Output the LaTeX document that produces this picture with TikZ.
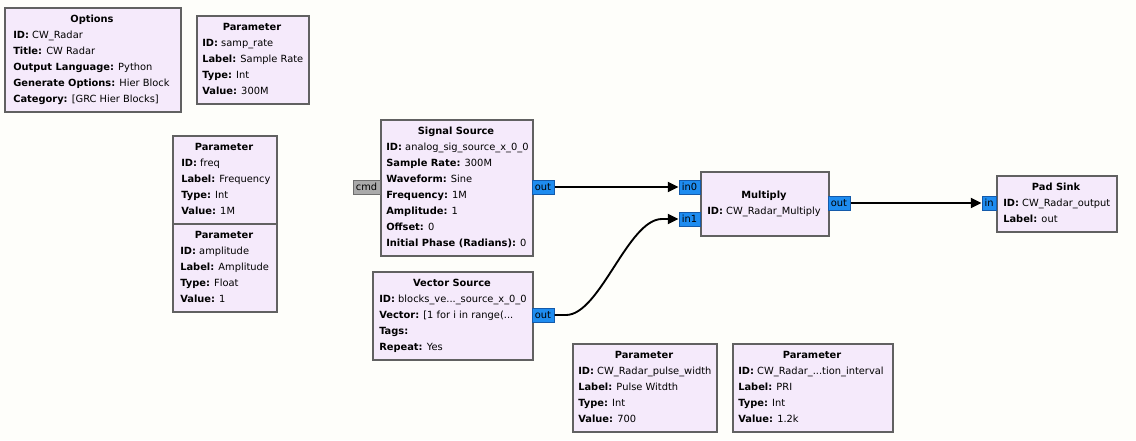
\documentclass[tikz,border=0pt]{standalone}
\usepackage{fontspec}
\setmainfont{DejaVu Sans}
\usetikzlibrary{arrows.meta}
\definecolor{bg}{RGB}{254,254,250}
\definecolor{blkfill}{RGB}{245,234,251}
\definecolor{blkdraw}{RGB}{97,97,97}
\definecolor{portfill}{RGB}{30,140,240}
\definecolor{portdraw}{RGB}{20,90,170}
\definecolor{cmdfill}{RGB}{170,170,170}
\definecolor{cmddraw}{RGB}{110,110,110}
\newcommand\tdots{...}
\tikzset{
  blk/.style={draw=blkdraw, fill=blkfill, line width=1.5pt, inner sep=0pt, anchor=north west},
  txt/.style={font=\fontsize{7.4}{12}\selectfont, inner sep=0pt, anchor=base west},
  ttl/.style={font=\fontsize{7.4}{12}\selectfont\bfseries, inner sep=0pt, anchor=base},
  port/.style={draw=portdraw, fill=portfill, line width=0.75pt, inner sep=0pt, minimum height=10.5pt, font=\fontsize{7.4}{9}\selectfont},
  cmdport/.style={draw=cmddraw, fill=cmdfill, line width=0.75pt, inner sep=0pt, minimum height=10.5pt, font=\fontsize{7.4}{9}\selectfont},
  conn/.style={line width=1.4pt, -{Triangle[length=8pt,width=7.5pt]}}
}
\newcommand\grcblock[9]{%
  \node[blk, minimum width=#4*0.75pt, minimum height=#5*0.75pt] (#1) at (#2,#3) {};
  \node[ttl] (#1-t) at (#2+#4/2, #3+#7) {#8};
  \foreach[count=\i] \rowtext in {#9} \node[txt] (#1-\i) at (#2+#6, #3+#7+16*\i) {\rowtext};
}
\begin{document}
\begin{tikzpicture}[x=0.75pt,y=-0.75pt]
\fill[bg] (0,0) rectangle (1136,440);
\useasboundingbox (0,0) rectangle (1136,440);

\grcblock{opt}{4}{7}{176}{104}{9}{15.7}{Options}{{\textbf{ID:} CW\_Radar},{\textbf{Title:} CW Radar},{\textbf{Output Language:} Python},{\textbf{Generate Options:} Hier Block},{\textbf{Category:} [GRC Hier Blocks]}}
\grcblock{samp}{196}{15}{112}{88}{6}{15.7}{Parameter}{{\textbf{ID:} samp\_rate},{\textbf{Label:} Sample Rate},{\textbf{Type:} Int},{\textbf{Value:} 300M}}
\grcblock{freq}{172}{135}{104}{88}{9}{15.7}{Parameter}{{\textbf{ID:} freq},{\textbf{Label:} Frequency},{\textbf{Type:} Int},{\textbf{Value:} 1M}}
\grcblock{amp}{172}{223}{104}{88}{8}{15.7}{Parameter}{{\textbf{ID:} amplitude},{\textbf{Label:} Amplitude},{\textbf{Type:} Float},{\textbf{Value:} 1}}
\grcblock{sig}{380}{119}{152}{136}{6}{15.7}{Signal Source}{{\textbf{ID:} analog\_sig\_source\_x\_0\_0},{\textbf{Sample Rate:} 300M},{\textbf{Waveform:} Sine},{\textbf{Frequency:} 1M},{\textbf{Amplitude:} 1},{\textbf{Offset:} 0},{\textbf{Initial Phase (Radians):} 0}}
\grcblock{vec}{372}{271}{160}{88}{7}{15.7}{Vector Source}{{\textbf{ID:} blocks\_ve\tdots\_source\_x\_0\_0},{\textbf{Vector:} [1 for i in range(\tdots},{\textbf{Tags:}},{\textbf{Repeat:} Yes}}
\grcblock{mul}{700}{171}{128}{64}{7}{27.5}{Multiply}{{\textbf{ID:} CW\_Radar\_Multiply}}
\grcblock{pad}{996}{175}{120}{56}{7}{15.7}{Pad Sink}{{\textbf{ID:} CW\_Radar\_output},{\textbf{Label:} out}}
\grcblock{pw}{572}{343}{144}{88}{6}{15.7}{Parameter}{{\textbf{ID:} CW\_Radar\_pulse\_width},{\textbf{Label:} Pulse Witdth},{\textbf{Type:} Int},{\textbf{Value:} 700}}
\grcblock{pri}{732}{343}{160}{88}{6}{15.7}{Parameter}{{\textbf{ID:} CW\_Radar\_\tdots tion\_interval},{\textbf{Label:} PRI},{\textbf{Type:} Int},{\textbf{Value:} 1.2k}}

\node[cmdport, minimum width=20.25pt] (cmd) at (366.5,187) {cmd};
\node[port, minimum width=16.5pt] (sigout) at (543,187) {out};
\node[port, minimum width=16.5pt] (vecout) at (543,315) {out};
\node[port, minimum width=15.75pt] (in0) at (689.5,187) {in0};
\node[port, minimum width=15.75pt] (in1) at (689.5,219) {in1};
\node[port, minimum width=16.5pt] (mulout) at (839,203) {out};
\node[port, minimum width=10.5pt] (padin) at (989,203) {in};

\coordinate (b1) at (566,315);
\coordinate (b2) at (662,219);
\draw[conn] (sigout.east) -- (in0.west);
\draw[conn] (mulout.east) -- (padin.west);
\draw[conn] (vecout.east) -- (b1) .. controls (600,315) and (628,219) .. (b2) -- (in1.west);
\end{tikzpicture}
\end{document}
